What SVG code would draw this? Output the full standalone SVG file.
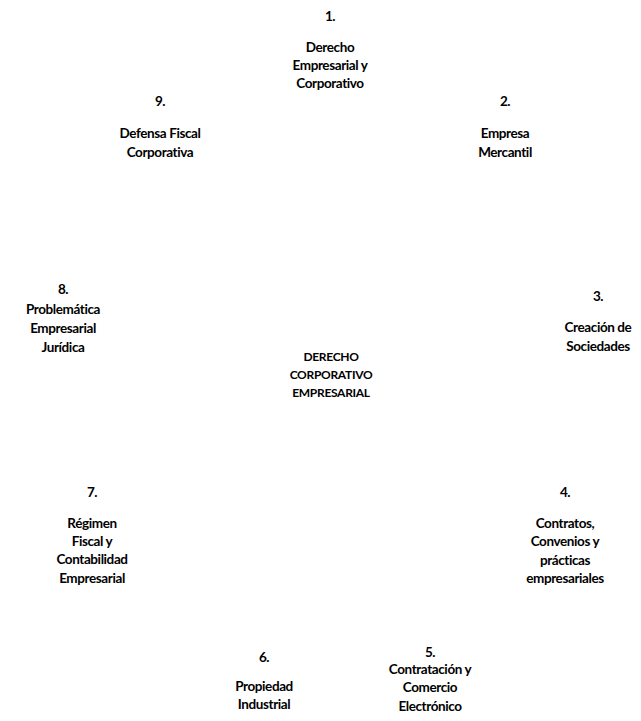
<svg xmlns="http://www.w3.org/2000/svg" width="641" height="721" viewBox="0 0 641 721">
<style>
text{font-family:Lato,"Liberation Sans",sans-serif;font-weight:bold;font-size:13.5px;fill:#000;text-anchor:middle;letter-spacing:-0.4px}
.c{font-size:12px;letter-spacing:-0.3px}
</style>
<rect width="641" height="721" fill="#fff"/>
<g id="connectors"/>
<g id="n1"><text x="330" y="21">1.</text><text x="330" y="52">Derecho</text><text x="330" y="70">Empresarial y</text><text x="330" y="88">Corporativo</text></g>
<g id="n2"><text x="505" y="106">2.</text><text x="505" y="138">Empresa</text><text x="505" y="157">Mercantil</text></g>
<g id="n3"><text x="598" y="301">3.</text><text x="598" y="332">Creación de</text><text x="598" y="351">Sociedades</text></g>
<g id="n4"><text x="565" y="497">4.</text><text x="565" y="528">Contratos,</text><text x="565" y="546">Convenios y</text><text x="565" y="565">prácticas</text><text x="565" y="583">empresariales</text></g>
<g id="n5"><text x="430" y="657">5.</text><text x="430" y="674">Contratación y</text><text x="430" y="692">Comercio</text><text x="430" y="711">Electrónico</text></g>
<g id="n6"><text x="264" y="662">6.</text><text x="264" y="691">Propiedad</text><text x="264" y="709">Industrial</text></g>
<g id="n7"><text x="92" y="497">7.</text><text x="92" y="528">Régimen</text><text x="92" y="546">Fiscal y</text><text x="92" y="564">Contabilidad</text><text x="92" y="583">Empresarial</text></g>
<g id="n8"><text x="63" y="294">8.</text><text x="63" y="314">Problemática</text><text x="63" y="333">Empresarial</text><text x="63" y="352">Jurídica</text></g>
<g id="n9"><text x="160" y="106">9.</text><text x="160" y="138">Defensa Fiscal</text><text x="160" y="157">Corporativa</text></g>
<g id="center"><text class="c" x="331" y="361">DERECHO</text><text class="c" x="331" y="379">CORPORATIVO</text><text class="c" x="331" y="397">EMPRESARIAL</text></g>
</svg>
